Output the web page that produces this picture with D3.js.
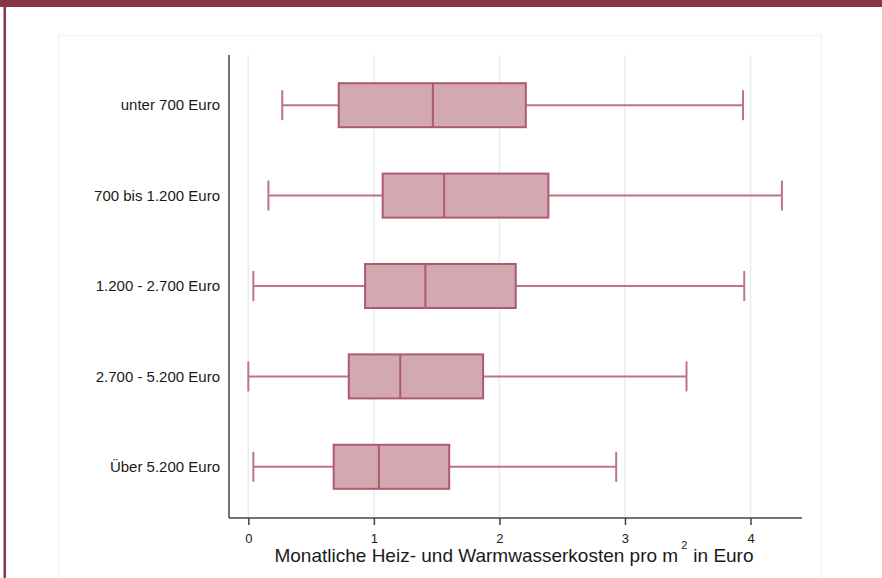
<!DOCTYPE html>
<html>
<head>
<meta charset="utf-8">
<script src="https://cdn.jsdelivr.net/npm/d3@7"></script>
<style>
  body { margin: 0; background: #fff; }
  svg { display: block; font-family: "Liberation Sans", Arial, sans-serif; }
</style>
</head>
<body>
<svg id="chart" width="882" height="578"></svg>
<script>
// income groups, top to bottom
var categories = ["unter 700 Euro", "700 bis 1.200 Euro", "1.200 - 2.700 Euro", "2.700 - 5.200 Euro", "Über 5.200 Euro"];
// box statistics (Euro per m2)
var lowerWhisker = [0.27, 0.16, 0.04, 0.00, 0.04];
var q1           = [0.72, 1.07, 0.93, 0.80, 0.68];
var median       = [1.47, 1.56, 1.41, 1.21, 1.04];
var q3           = [2.21, 2.39, 2.13, 1.87, 1.60];
var upperWhisker = [3.94, 4.25, 3.95, 3.49, 2.93];
var xTicks = [0, 1, 2, 3, 4];

var svg = d3.select("#chart");

// page frame
svg.append("rect").attr("x", 0).attr("y", 0).attr("width", 882).attr("height", 7).attr("fill", "#8a3449");
svg.append("rect").attr("x", 3.5).attr("y", 0).attr("width", 2.5).attr("height", 578).attr("fill", "#8a3449");
svg.append("rect").attr("x", 58.5).attr("y", 35.5).attr("width", 763).attr("height", 560)
  .attr("fill", "none").attr("stroke", "#eef3f3").attr("stroke-width", 1.5);

var plotL = 229, plotR = 802, plotT = 55, plotB = 518;

var x = d3.scaleLinear().domain([-0.154, 4.41]).range([plotL, plotR]);
var y = d3.scaleBand().domain(categories).range([60, 512]).paddingInner(0.5).paddingOuter(0.25);

var g = svg.append("g");

// vertical grid
g.selectAll("line.grid").data(xTicks).enter().append("line")
  .attr("class", "grid")
  .attr("x1", function(d) { return x(d); }).attr("x2", function(d) { return x(d); })
  .attr("y1", plotT).attr("y2", plotB)
  .attr("stroke", "#e6eef0").attr("stroke-width", 1.5);

var rows = categories.map(function(c, i) {
  return { cat: c, lw: lowerWhisker[i], q1: q1[i], med: median[i], q3: q3[i], uw: upperWhisker[i] };
});

var boxH = 44, capH = 30;
var fill = "#d2a8b1", stroke = "#ad5a6f", whisk = "#bd7487";

var row = g.selectAll("g.row").data(rows).enter().append("g")
  .attr("class", "row")
  .attr("transform", function(d) { return "translate(0," + (y(d.cat) + y.bandwidth() / 2) + ")"; });

// whiskers
row.append("line").attr("x1", function(d) { return x(d.lw); }).attr("x2", function(d) { return x(d.q1); })
  .attr("y1", 0).attr("y2", 0).attr("stroke", whisk).attr("stroke-width", 2);
row.append("line").attr("x1", function(d) { return x(d.q3); }).attr("x2", function(d) { return x(d.uw); })
  .attr("y1", 0).attr("y2", 0).attr("stroke", whisk).attr("stroke-width", 2);
row.append("line").attr("x1", function(d) { return x(d.lw); }).attr("x2", function(d) { return x(d.lw); })
  .attr("y1", -capH / 2).attr("y2", capH / 2).attr("stroke", whisk).attr("stroke-width", 2);
row.append("line").attr("x1", function(d) { return x(d.uw); }).attr("x2", function(d) { return x(d.uw); })
  .attr("y1", -capH / 2).attr("y2", capH / 2).attr("stroke", whisk).attr("stroke-width", 2);

// box + median
row.append("rect")
  .attr("x", function(d) { return x(d.q1); })
  .attr("width", function(d) { return x(d.q3) - x(d.q1); })
  .attr("y", -boxH / 2).attr("height", boxH)
  .attr("fill", fill).attr("stroke", stroke).attr("stroke-width", 2);
row.append("line").attr("x1", function(d) { return x(d.med); }).attr("x2", function(d) { return x(d.med); })
  .attr("y1", -boxH / 2).attr("y2", boxH / 2).attr("stroke", stroke).attr("stroke-width", 2);

// category labels
row.append("text").attr("x", 220).attr("y", 0).attr("dy", "0.35em")
  .attr("text-anchor", "end").attr("font-size", 15).attr("fill", "#1a1a1a")
  .text(function(d) { return d.cat; });

// axes lines
g.append("line").attr("x1", plotL).attr("x2", plotL).attr("y1", plotT).attr("y2", plotB)
  .attr("stroke", "#444").attr("stroke-width", 1.5);
g.append("line").attr("x1", plotL).attr("x2", plotR).attr("y1", plotB).attr("y2", plotB)
  .attr("stroke", "#444").attr("stroke-width", 1.5);

var xAxis = g.append("g").attr("transform", "translate(0," + plotB + ")")
  .call(d3.axisBottom(x).tickValues(xTicks).tickSize(7).tickPadding(9).tickFormat(d3.format("d")));
xAxis.select(".domain").remove();
xAxis.selectAll(".tick line").attr("stroke", "#444").attr("stroke-width", 1.5);
xAxis.selectAll(".tick text").attr("font-size", 13).attr("fill", "#1a1a1a")
  .attr("font-family", "Liberation Sans, Arial, sans-serif");

// axis title
var title = svg.append("text").attr("x", 514).attr("y", 562).attr("text-anchor", "middle")
  .attr("font-size", 19).attr("fill", "#1a1a1a");
title.append("tspan").text("Monatliche Heiz- und Warmwasserkosten pro m");
title.append("tspan").attr("font-size", 11).attr("dy", -13).attr("dx", 3).text("2");
title.append("tspan").attr("dy", 13).attr("dx", 6).text("in Euro");
</script>
</body>
</html>
